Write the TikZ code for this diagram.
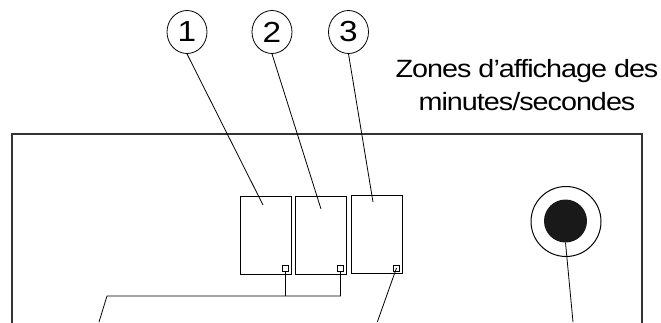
\documentclass[tikz,border=0pt]{standalone}
\usepackage{fontspec}
\newfontfamily\labelfont[FakeStretch=1.15,LetterSpace=-4]{Liberation Sans}
\usetikzlibrary{shapes.geometric,positioning}

\begin{document}
\begin{tikzpicture}[
    x=1pt,y=-1pt,
    callout/.style={ellipse,draw,line width=0.8pt,minimum width=40pt,minimum height=43pt,inner sep=0pt,font=\labelfont\fontsize{29}{29}\selectfont},
    display/.style={rectangle,draw,line width=1pt,minimum width=51pt,minimum height=78pt,inner sep=0pt},
    led/.style={rectangle,draw,line width=0.8pt,minimum size=6pt,inner sep=0pt},
    wire/.style={line width=0.8pt},
    title/.style={font=\labelfont\fontsize{25}{25}\selectfont,anchor=base,inner sep=0pt}
]
    \useasboundingbox (0,0) rectangle (661,322);

    % Front panel outline (runs off the bottom)
    \draw[line width=1.2pt,black!80] (12,330) -- (12,134) -- (642,134) -- (642,330);

    % Display zones
    \node[display] (d1) at (265.5,235) {};
    \node[display] (d2) at (320.5,235) {};
    \node[display] (d3) at (377,234.5) {};

    % Small squares in the lower right corners
    \node[led] (s1) at (285.5,268) {};
    \node[led] (s2) at (340.5,268) {};
    \node[led] (s3) at (396.5,268) {};

    % Numbered callouts
    \node[callout] (c1) at (187,32) {1};
    \node[callout] (c2) at (272,32) {2};
    \node[callout] (c3) at (348.5,32) {3};

    \coordinate (p1) at (263,205);
    \coordinate (p2) at (321,209);
    \coordinate (p3) at (373,202);
    \draw[wire] (c1.south) -- (p1);
    \draw[wire] (c2.south) -- (p2);
    \draw[wire] (c3.south) -- (p3);

    % Title
    \node[title] (t1) at (527,77) {Zones d’affichage des};
    \node[title] (t2) at (527,110) {minutes/secondes};

    % Jack socket
    \node[circle,draw,line width=1pt,minimum size=70pt,inner sep=0pt] (jack) at (566,221.5) {};
    \node[circle,fill=black!90,minimum size=43pt,inner sep=0pt] (plug) at (565.5,221) {};

    % Wiring to the bottom
    \coordinate (j1) at (285.5,296);
    \coordinate (j2) at (340.5,296);
    \coordinate (k1) at (107,296);
    \coordinate (e1) at (99,322);
    \coordinate (e3) at (377.3,322);
    \coordinate (e4) at (573,322);
    \draw[wire] (s1.south) -- (j1);
    \draw[wire] (s2.south) -- (j2) -- (k1) -- (e1);
    \draw[wire] (s3.center) -- (e3);
    \draw[wire] (plug.south) -- (e4);
\end{tikzpicture}
\end{document}
